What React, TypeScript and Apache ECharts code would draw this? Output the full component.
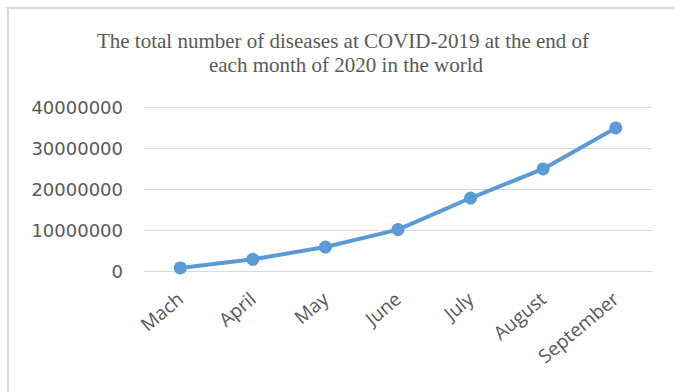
import React, { useEffect, useRef } from "react";
import * as echarts from "echarts";

const months = ["Mach", "April", "May", "June", "July", "August", "September"];
const totalCases = [750000, 2850000, 5850000, 10100000, 17800000, 24900000, 34900000];
const titleLines = [
  "The total number of diseases at COVID-2019 at the end of",
  "each month of 2020 in the world",
];

export default function App() {
  const ref = useRef<HTMLDivElement>(null);
  useEffect(() => {
    if (!ref.current) return;
    const chart = echarts.init(ref.current, null, { renderer: "svg" });
    chart.setOption({
      animation: false,
      backgroundColor: "#ffffff",
      graphic: [
        { type: "rect", shape: { x: 6, y: 7, width: 669, height: 2 }, style: { fill: "#d9d9d9" } },
        { type: "rect", shape: { x: 7, y: 7, width: 2, height: 385 }, style: { fill: "#d9d9d9" } },
        {
          type: "text",
          x: 343,
          y: 41,
          style: {
            text: titleLines[0],
            textAlign: "center",
            textVerticalAlign: "middle",
            fontFamily: "Liberation Serif",
            fontSize: 21,
            fill: "#595959",
          },
        },
        {
          type: "text",
          x: 346,
          y: 65,
          style: {
            text: titleLines[1],
            textAlign: "center",
            textVerticalAlign: "middle",
            fontFamily: "Liberation Serif",
            fontSize: 21,
            fill: "#595959",
          },
        },
      ],
      grid: { left: 144, right: 23, top: 107, bottom: 121, containLabel: false },
      xAxis: {
        type: "category",
        data: months,
        boundaryGap: true,
        axisLine: { show: true, lineStyle: { color: "#d9d9d9", width: 1 } },
        axisTick: { show: false },
        axisLabel: {
          rotate: 40,
          margin: 25,
          interval: 0,
          fontFamily: "Open Sans",
          fontSize: 19,
          color: "#595959",
        },
      },
      yAxis: {
        type: "value",
        min: 0,
        max: 40000000,
        interval: 10000000,
        axisLine: { show: false },
        axisTick: { show: false },
        splitLine: { lineStyle: { color: "#d9d9d9", width: 1 } },
        axisLabel: {
          margin: 21,
          fontFamily: "DejaVu Sans",
          fontSize: 18,
          color: "#595959",
          formatter: (v: number) => String(v),
        },
      },
      series: [
        {
          type: "line",
          data: totalCases,
          symbol: "circle",
          symbolSize: 13,
          lineStyle: { color: "#5b9bd5", width: 4 },
          itemStyle: { color: "#5b9bd5" },
        },
      ],
    });
    return () => chart.dispose();
  }, []);
  return <div ref={ref} style={{ position: "fixed", left: 0, top: 0, width: 675, height: 392 }} />;
}
